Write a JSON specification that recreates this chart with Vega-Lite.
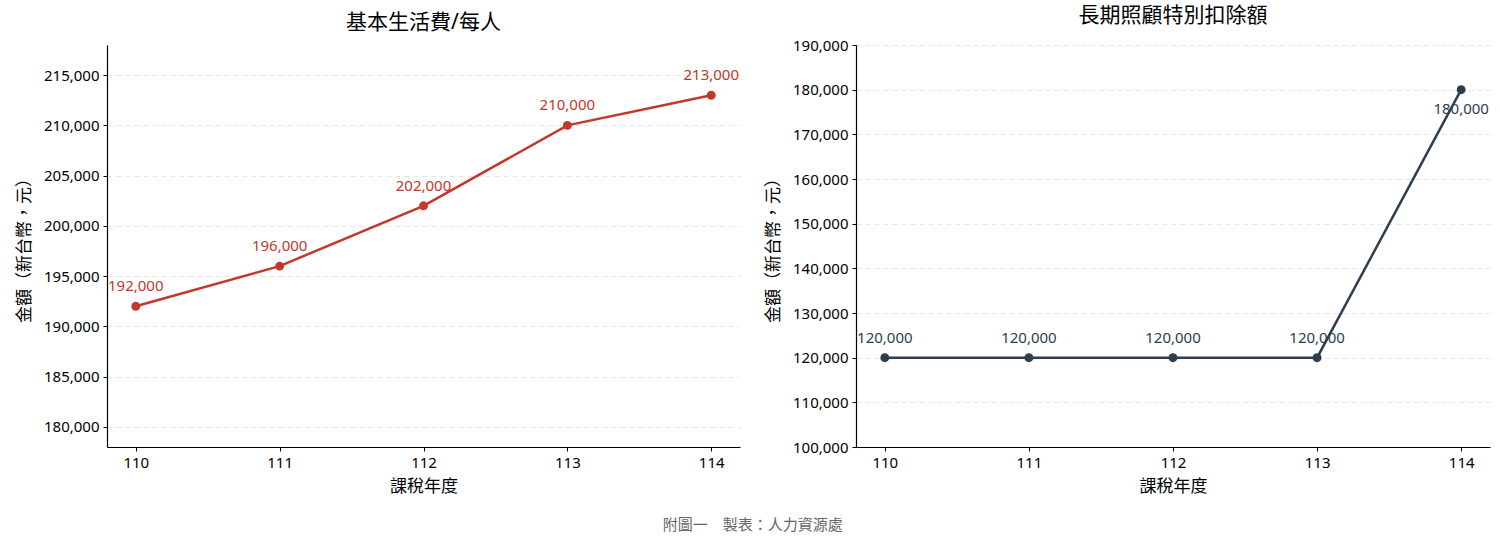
{
  "$schema": "https://vega.github.io/schema/vega-lite/v6.json",
  "background": "white",
  "padding": {"left": 15, "top": 5, "right": 10, "bottom": 10},
  "spacing": 24,
  "title": {"text": "附圖一　製表：人力資源處", "orient": "bottom", "anchor": "middle", "fontSize": 15, "fontWeight": "normal", "color": "#666666", "font": "Noto Sans, Noto Sans CJK TC", "offset": 24},
  "config": {
    "font": "Noto Sans, Noto Sans CJK TC",
    "view": {"stroke": null},
    "axis": {"labelFont": "Noto Sans, Noto Sans CJK TC", "titleFont": "Noto Sans, Noto Sans CJK TC", "labelFontSize": 15, "titleFontSize": 17, "titleFontWeight": "normal", "labelColor": "#000000", "titleColor": "#000000", "domainColor": "#000000", "tickColor": "#000000", "tickSize": 4, "domainWidth": 1.2, "tickWidth": 1},
    "title": {"font": "Noto Sans, Noto Sans CJK TC", "fontSize": 21, "fontWeight": "normal", "color": "#000000"}
  },
  "datasets": {
    "basic": [
      {"year": 110, "amount": 192000},
      {"year": 111, "amount": 196000},
      {"year": 112, "amount": 202000},
      {"year": 113, "amount": 210000},
      {"year": 114, "amount": 213000}
    ],
    "ltc": [
      {"year": 110, "amount": 120000},
      {"year": 111, "amount": 120000},
      {"year": 112, "amount": 120000},
      {"year": 113, "amount": 120000},
      {"year": 114, "amount": 180000}
    ]
  },
  "hconcat": [
    {
      "width": 633,
      "height": 402,
      "title": {"text": "基本生活費/每人", "offset": 12},
      "data": {"name": "basic"},
      "encoding": {
        "x": {"field": "year", "type": "quantitative", "title": "課稅年度",
          "scale": {"domain": [109.8, 114.2], "nice": false, "zero": false},
          "axis": {"values": [110, 111, 112, 113, 114], "format": "d", "grid": false, "labelPadding": 4, "titlePadding": 8}},
        "y": {"field": "amount", "type": "quantitative", "title": "金額（新台幣，元）",
          "scale": {"domain": [178000, 218000], "nice": false, "zero": false},
          "axis": {"values": [180000, 185000, 190000, 195000, 200000, 205000, 210000, 215000], "format": ",d", "grid": true, "gridDash": [5, 4], "gridColor": "#e6e6e6", "gridWidth": 1, "labelPadding": 4, "titlePadding": 10}}
      },
      "layer": [
        {"mark": {"type": "line", "color": "#c0392b", "strokeWidth": 2.5}},
        {"mark": {"type": "point", "filled": true, "opacity": 1, "color": "#c0392b", "size": 80}},
        {"mark": {"type": "text", "color": "#c0392b", "fontSize": 15, "dy": -20}, "encoding": {"text": {"field": "amount", "type": "quantitative", "format": ",d"}}}
      ]
    },
    {
      "width": 634,
      "height": 402,
      "title": {"text": "長期照顧特別扣除額", "offset": 12},
      "data": {"name": "ltc"},
      "encoding": {
        "x": {"field": "year", "type": "quantitative", "title": "課稅年度",
          "scale": {"domain": [109.8, 114.2], "nice": false, "zero": false},
          "axis": {"values": [110, 111, 112, 113, 114], "format": "d", "grid": false, "labelPadding": 4, "titlePadding": 8}},
        "y": {"field": "amount", "type": "quantitative", "title": "金額（新台幣，元）",
          "scale": {"domain": [100000, 190000], "nice": false, "zero": false},
          "axis": {"values": [100000, 110000, 120000, 130000, 140000, 150000, 160000, 170000, 180000, 190000], "format": ",d", "grid": true, "gridDash": [5, 4], "gridColor": "#e6e6e6", "gridWidth": 1, "labelPadding": 4, "titlePadding": 10}}
      },
      "layer": [
        {"mark": {"type": "line", "color": "#2c3e50", "strokeWidth": 2.5}},
        {"mark": {"type": "point", "filled": true, "opacity": 1, "color": "#2c3e50", "size": 80}},
        {"transform": [{"filter": "datum.year < 114"}], "mark": {"type": "text", "color": "#2c3e50", "fontSize": 15, "dy": -20}, "encoding": {"text": {"field": "amount", "type": "quantitative", "format": ",d"}}},
        {"transform": [{"filter": "datum.year >= 114"}], "mark": {"type": "text", "color": "#2c3e50", "fontSize": 15, "dy": 19}, "encoding": {"text": {"field": "amount", "type": "quantitative", "format": ",d"}}}
      ]
    }
  ]
}
